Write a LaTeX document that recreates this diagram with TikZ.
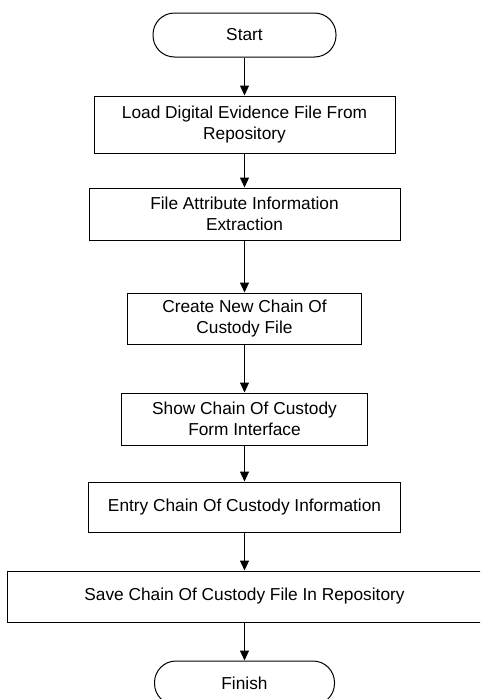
\documentclass[tikz,border=0pt]{standalone}
\usepackage{fontspec}
\setmainfont{Liberation Sans}
\usetikzlibrary{arrows.meta}
\begin{document}
\begin{tikzpicture}[x=1pt,y=-1pt,
  every node/.style={font=\fontsize{17.3}{20.5}\selectfont, align=center, inner sep=0pt},
  procbox/.style={draw, line width=1pt, rectangle},
  termbox/.style={draw, line width=1pt, rectangle, rounded corners=21.5pt, minimum height=44pt},
  flow/.style={line width=1pt, -{Triangle[length=10pt,width=9pt]}}]
\useasboundingbox (0,0) rectangle (480,699);
\clip (0,0) rectangle (480,699);
\node[termbox, minimum width=183pt] (start) at (244.5,35) {Start};
\node[procbox, minimum width=301pt, minimum height=57pt] (load) at (244.5,124.5) {Load Digital Evidence File From\\Repository};
\node[procbox, minimum width=311pt, minimum height=52pt] (attr) at (244.5,214) {File Attribute Information\\Extraction};
\node[procbox, minimum width=234pt, minimum height=51pt] (create) at (244.5,318.5) {Create New Chain Of\\Custody File};
\node[procbox, minimum width=246pt, minimum height=52pt] (show) at (244.5,419) {Show Chain Of Custody\\Form Interface};
\node[procbox, minimum width=312pt, minimum height=50pt] (entry) at (244.5,507) {Entry Chain Of Custody Information};
\node[procbox, minimum width=474pt, minimum height=51pt] (save) at (244.5,596.5) {Save Chain Of Custody File In Repository};
\node[termbox, minimum width=180pt] (finish) at (244.5,683) {Finish};
\draw[flow] (start.south) -- (load.north);
\draw[flow] (load.south) -- (attr.north);
\draw[flow] (attr.south) -- (create.north);
\draw[flow] (create.south) -- (show.north);
\draw[flow] (show.south) -- (entry.north);
\draw[flow] (entry.south) -- (save.north);
\draw[flow] (save.south) -- (finish.north);
\end{tikzpicture}
\end{document}
